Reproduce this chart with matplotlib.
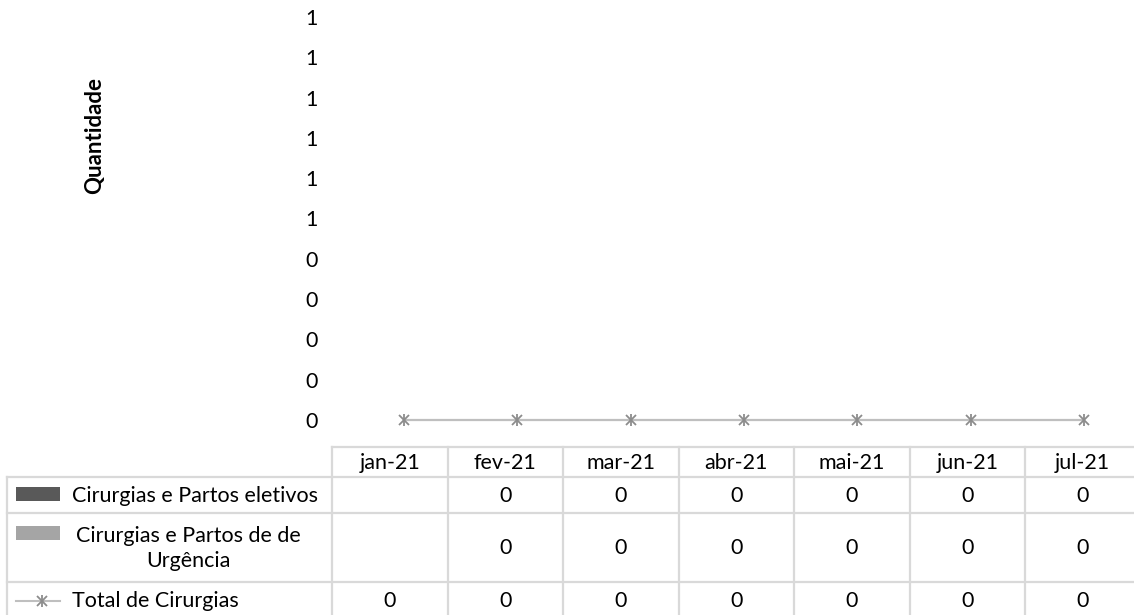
import math
import matplotlib
matplotlib.use("Agg")
import matplotlib.pyplot as plt
from matplotlib.ticker import FuncFormatter

plt.rcParams['font.family'] = ['Lato', 'DejaVu Sans']

months = ["jan-21", "fev-21", "mar-21", "abr-21", "mai-21", "jun-21", "jul-21"]
eletivos = [None, 0, 0, 0, 0, 0, 0]
urgencia = [None, 0, 0, 0, 0, 0, 0]
total = [0, 0, 0, 0, 0, 0, 0]
series_names = ["Cirurgias e Partos eletivos", "Cirurgias e Partos de de\nUrgência", "Total de Cirurgias"]
y_ticks = [0, 0.1, 0.2, 0.3, 0.4, 0.5, 0.6, 0.7, 0.8, 0.9, 1.0]

W, H = 1134, 615
DPI = 100
fig = plt.figure(figsize=(W / DPI, H / DPI), dpi=DPI)

c_dark = "#595959"
c_light = "#a5a5a5"
c_line = "#bfbfbf"
c_mark = "#8c8c8c"
c_grid = "#d9d9d9"
FS = 15.5

def px(x0, y0, x1, y1):
    return [x0 / W, 1 - y1 / H, (x1 - x0) / W, (y1 - y0) / H]

# plot area
ax = fig.add_axes(px(404, 17, 1084, 420))
xs = list(range(len(months)))
ax.bar(xs, [v if v is not None else 0 for v in eletivos], color=c_dark, linewidth=0)
ax.bar(xs, [v if v is not None else 0 for v in urgencia], color=c_light, linewidth=0)
ax.plot(xs, total, color=c_line, linewidth=1.6, clip_on=False, zorder=4)
ax.plot(xs, total, linestyle='none', marker='x', markersize=7, markeredgewidth=1.3,
        markeredgecolor=c_mark, clip_on=False, zorder=5)
ax.plot(xs, total, linestyle='none', marker='|', markersize=9, markeredgewidth=1.3,
        markeredgecolor=c_mark, clip_on=False, zorder=5)
ax.set_xlim(0, 6)
ax.set_ylim(0, 1)
ax.set_yticks(y_ticks)
ax.yaxis.set_major_formatter(FuncFormatter(lambda v, p: str(int(math.floor(v + 0.5 + 1e-9)))))
ax.tick_params(axis='y', length=0, pad=62, labelsize=FS)
ax.set_xticks([])
for s in ax.spines.values():
    s.set_visible(False)
ax.patch.set_alpha(0)

fig.text(95 / W, 1 - 135 / H, "Quantidade", rotation=90, ha='center', va='center',
         fontsize=16, fontweight='bold')

# data table
tx = fig.add_axes([0, 0, 1, 1])
tx.set_xlim(0, W)
tx.set_ylim(H, 0)
tx.axis('off')
tx.patch.set_alpha(0)

col0 = 332
cw = 115.5
rows_y = [447, 477, 513, 582, 618]
lw = 1.6
tx.plot([col0, W], [rows_y[0]] * 2, color=c_grid, lw=lw)
for yy in rows_y[1:4]:
    tx.plot([7, W], [yy] * 2, color=c_grid, lw=lw)
tx.plot([7, 7], [rows_y[1], H], color=c_grid, lw=lw)
for k in range(len(months) + 1):
    xx = col0 + k * cw
    tx.plot([xx, xx], [rows_y[0], H], color=c_grid, lw=lw)

for k, m in enumerate(months):
    cx = col0 + (k + 0.5) * cw
    tx.text(cx, (rows_y[0] + rows_y[1]) / 2 + 1, m, ha='center', va='center', fontsize=FS)
    for r, vals in enumerate([eletivos, urgencia, total]):
        v = vals[k]
        if v is not None:
            tx.text(cx, (rows_y[r + 1] + rows_y[r + 2]) / 2 + 1, str(v), ha='center',
                    va='center', fontsize=FS)

ry = [(rows_y[i] + rows_y[i + 1]) / 2 for i in range(1, 4)]
tx.add_patch(plt.Rectangle((16, 487), 44, 14, color=c_dark, lw=0))
tx.add_patch(plt.Rectangle((16, 526), 44, 14, color=c_light, lw=0))
tx.plot([16, 60], [601, 601], color=c_line, lw=1.5)
tx.plot([42], [601], marker='x', markersize=7, markeredgewidth=1.3, markeredgecolor=c_mark)
tx.plot([42], [601], marker='|', markersize=9, markeredgewidth=1.3, markeredgecolor=c_mark)
tx.text(72, ry[0] + 1, series_names[0], ha='left', va='center', fontsize=FS)
tx.text(188, ry[1] + 1, series_names[1], ha='center', va='center', fontsize=FS,
        multialignment='center', linespacing=1.3)
tx.text(72, ry[2] + 1, series_names[2], ha='left', va='center', fontsize=FS)

fig.savefig("out.png", dpi=DPI)
